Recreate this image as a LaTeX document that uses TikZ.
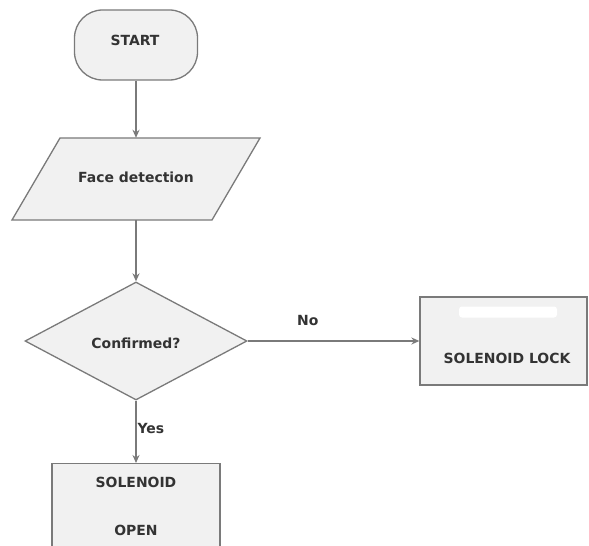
\documentclass[tikz,border=0pt]{standalone}
\usepackage{fontspec}
\setmainfont{DejaVu Sans}
\usetikzlibrary{shapes.geometric,arrows.meta}
\definecolor{edgegray}{HTML}{7A7A7A}
\definecolor{boxfill}{HTML}{F1F1F1}
\definecolor{txtgray}{HTML}{333333}
\tikzset{
  box/.style={draw=edgegray, line width=1.3bp, fill=boxfill, inner sep=0pt},
  lbl/.style={text=txtgray, font=\fontsize{14}{16}\selectfont\bfseries, inner sep=0pt},
  conn/.style={draw=edgegray, line width=1.3bp, -{Stealth[length=8bp,width=7bp]}}
}
\begin{document}
\begin{tikzpicture}[x=1bp,y=-1bp]
\useasboundingbox[fill=white] (0,0) rectangle (589,546);
% START
\node[box, rectangle, rounded corners=28bp, minimum width=123bp, minimum height=70bp] (start) at (136,45) {};
\node[lbl] (starttxt) at (135,40) {START};
% Face detection parallelogram
\draw[box] (60,138) -- (260,138) -- (212,220) -- (12,220) -- cycle;
\node[rectangle, minimum width=150bp, minimum height=82bp, inner sep=0pt] (face) at (136,179) {};
\node[lbl] (facetxt) at (136,177) {Face detection};
% Decision diamond
\node[box, diamond, aspect=1.88, minimum width=222bp, minimum height=118bp] (dec) at (136,341) {};
\node[lbl] (dectxt) at (136,343) {Confirmed?};
% Solenoid lock
\node[box, rectangle, minimum width=167bp, minimum height=88bp] (lock) at (503.5,341) {};
\node[fill=white, rounded corners=3bp, minimum width=98bp, minimum height=11bp, inner sep=0pt] (patch) at (508,312) {};
\node[lbl] (locktxt) at (507,358) {SOLENOID LOCK};
% Solenoid open
\node[box, rectangle, minimum width=168bp, minimum height=100bp, anchor=north] (open) at (136,463) {};
\node[lbl] (opentxt1) at (136,482) {SOLENOID};
\node[lbl] (opentxt2) at (136,530) {OPEN};
% connectors
\draw[conn] (start.south) -- (face.north);
\draw[conn] (face.south) -- (dec.north);
\draw[conn] (dec.east) -- node[lbl, above=15bp, pos=0.35] (nolbl) {No} (lock.west);
\draw[conn] (dec.south) -- node[lbl, right=1bp, pos=0.45] (yeslbl) {Yes} (open.north);
\end{tikzpicture}
\end{document}
